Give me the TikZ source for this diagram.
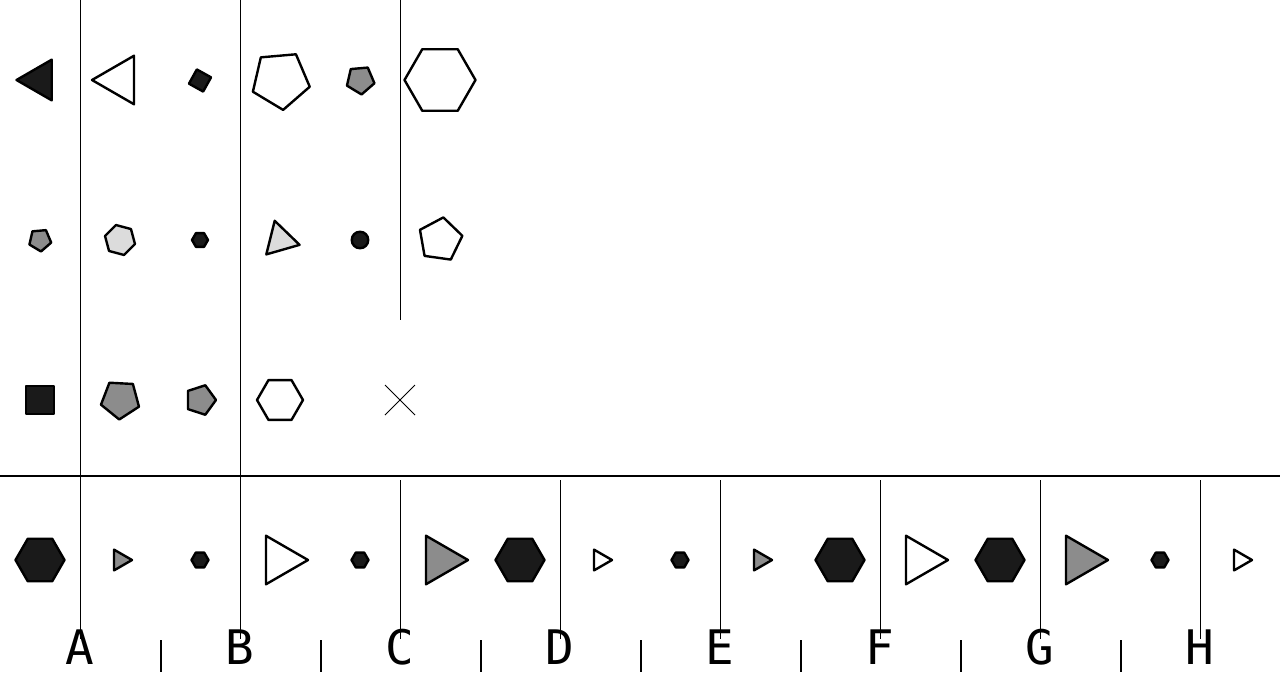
\documentclass[tikz,border=0pt]{standalone}
\usepackage{fontspec}
\newfontfamily\lblfont{DejaVu Sans Mono}
\usetikzlibrary{shapes.geometric}
\definecolor{dk}{HTML}{1A1A1A}
\definecolor{md}{HTML}{8C8C8C}
\definecolor{lt}{HTML}{DCDCDC}
\tikzset{
  shp/.style={draw=black, line width=1.8pt, line join=round, inner sep=0pt, outer sep=0pt},
  poly/.style n args={3}{shp, regular polygon, regular polygon sides=#1, minimum size=#2*1.5pt, shape border rotate=#3},
  thinline/.style={line width=0.75pt, black},
  thickline/.style={line width=1.5pt, black},
  lbl/.style={anchor=base, inner sep=0pt, font=\lblfont\fontsize{35.7}{36}\selectfont}
}
\begin{document}
\begin{tikzpicture}[x=0.75pt, y=-0.75pt]
\useasboundingbox (0,0) rectangle (1280,672);
% grid lines
\draw[thinline] (80,0) -- (80,639);
\draw[thinline] (240,0) -- (240,639);
\draw[thinline] (400,0) -- (400,320);
\foreach \x in {400,560,720,880,1040,1200} \draw[thinline] (\x,480) -- (\x,639);
\draw[thickline] (0,476) -- (1280,476);
\foreach \x in {161,321,481,641,801,961,1121} \draw[thickline] (\x,640) -- (\x,672);
% row 1
\node[poly={3}{23.5}{90}, fill=dk] (r1a) at (40,80) {};
\node[poly={3}{28}{90}, fill=white] (r1b) at (120,80) {};
\node[poly={4}{11.5}{-29}, fill=dk] (r1c) at (200,80.5) {};
\node[poly={5}{30}{41}, fill=white] (r1d) at (280.5,80) {};
\node[poly={5}{14.5}{41}, fill=md] (r1e) at (360.3,80) {};
\node[poly={6}{35.5}{0}, fill=white] (r1f) at (440,80) {};
% row 2
\node[poly={5}{11.5}{41}, fill=md] (r2a) at (40,240) {};
\node[poly={6}{15.5}{45}, fill=lt] (r2b) at (120,240) {};
\node[poly={6}{8}{0}, fill=dk] (r2c) at (200,240) {};
\node[poly={3}{20}{16}, fill=lt] (r2d) at (280.2,240) {};
\node[shp, circle, fill=dk, minimum size=12.4pt] (r2e) at (360,240) {};
\node[poly={5}{22.5}{-8}, fill=white] (r2f) at (440.2,239.7) {};
% row 3
\node[poly={4}{19.4}{0}, fill=dk] (r3a) at (40,400) {};
\node[poly={5}{20}{33}, fill=md] (r3b) at (120.3,399.5) {};
\node[poly={5}{15.5}{-18}, fill=md] (r3c) at (200.5,400) {};
\node[poly={6}{23}{0}, fill=white] (r3d) at (280,400) {};
\coordinate (r3e) at (400,400);
\draw[thinline] ([shift={(-15,-15)}]r3e) -- ([shift={(15,15)}]r3e)
                ([shift={(-15,15)}]r3e) -- ([shift={(15,-15)}]r3e);
% row 4
\node[poly={6}{24.5}{0}, fill=dk] (r4a) at (40,560) {};
\node[poly={3}{12}{-90}, fill=md] (r4b) at (120,560) {};
\node[poly={6}{8.5}{0}, fill=dk] (r4c) at (200,560) {};
\node[poly={3}{28}{-90}, fill=white] (r4d) at (280,560) {};
\node[poly={6}{8.5}{0}, fill=dk] (r4e) at (360,560) {};
\node[poly={3}{28}{-90}, fill=md] (r4f) at (440,560) {};
\node[poly={6}{24.5}{0}, fill=dk] (r4g) at (520,560) {};
\node[poly={3}{12}{-90}, fill=white] (r4h) at (600,560) {};
\node[poly={6}{8.5}{0}, fill=dk] (r4i) at (680,560) {};
\node[poly={3}{12}{-90}, fill=md] (r4j) at (760,560) {};
\node[poly={6}{24.5}{0}, fill=dk] (r4k) at (840,560) {};
\node[poly={3}{28}{-90}, fill=white] (r4l) at (920,560) {};
\node[poly={6}{24.5}{0}, fill=dk] (r4m) at (1000,560) {};
\node[poly={3}{28}{-90}, fill=md] (r4n) at (1080,560) {};
\node[poly={6}{8.5}{0}, fill=dk] (r4o) at (1160,560) {};
\node[poly={3}{12}{-90}, fill=white] (r4p) at (1240,560) {};
% labels
\node[lbl] (la) at (80,664) {A};
\node[lbl] (lb) at (240,664) {B};
\node[lbl] (lc) at (400,664) {C};
\node[lbl] (ld) at (560,664) {D};
\node[lbl] (le) at (720,664) {E};
\node[lbl] (lf) at (880,664) {F};
\node[lbl] (lg) at (1040,664) {G};
\node[lbl] (lh) at (1200,664) {H};
\end{tikzpicture}
\end{document}
